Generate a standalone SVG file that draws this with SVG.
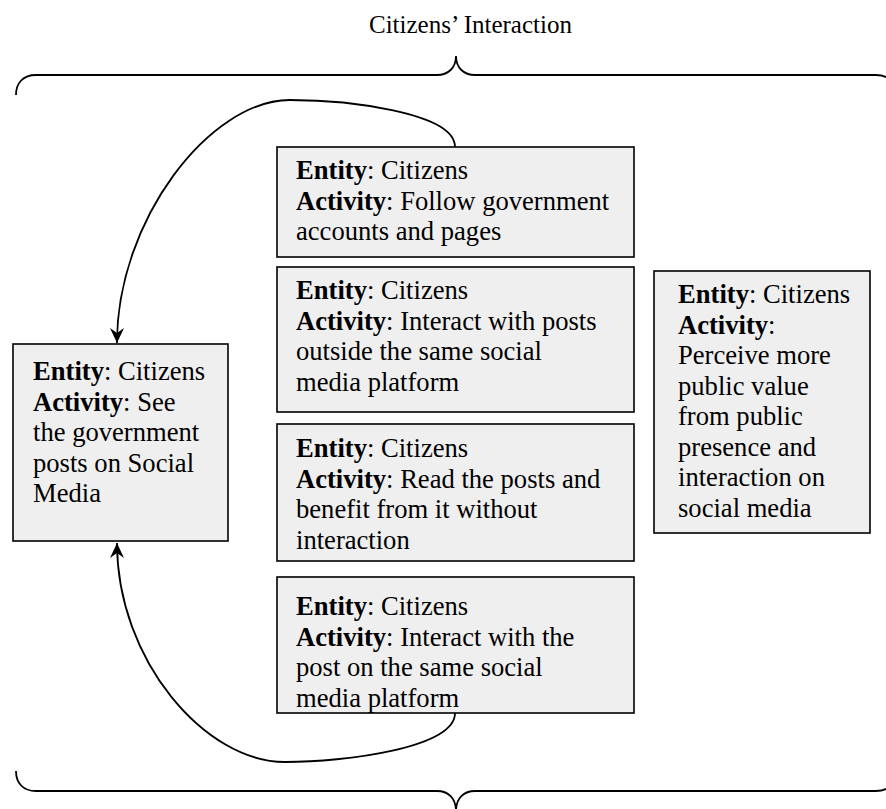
<svg xmlns="http://www.w3.org/2000/svg" width="886" height="809" viewBox="0 0 886 809">
<style>
  .box { fill: #efefef; stroke: #000; stroke-width: 1.6; }
  .t { font-family: "Liberation Serif", "Times New Roman", serif; font-size: 26.6px; fill: #000; }
  .b { font-weight: bold; }
  .edge { fill: none; stroke: #000; stroke-width: 1.8; }
  .brace { fill: none; stroke: #000; stroke-width: 1.8; }
</style>
<defs>
  <marker id="arr" markerWidth="18" markerHeight="18" refX="15" refY="8" orient="auto" markerUnits="userSpaceOnUse">
    <path d="M0,1 L15,8 L0,15 L5,8 Z" fill="#000"/>
  </marker>
  <clipPath id="c4"><rect x="277" y="577" width="357" height="136"/></clipPath>
</defs>
<rect width="886" height="809" fill="#fff"/>

<text class="t" x="369" y="33" style="font-size:25px">Citizens’ Interaction</text>

<g id="braces">
  <path class="brace" d="M16,95 C16,83 23,75 36,75 L437,75 C448,75 456,68 456,56 C456,68 464,75 475,75 L876,75 C889,75 896,83 896,95"/>
  <path class="brace" d="M16,771 C16,783 23,791 36,791 L437,791 C448,791 456,798 456,811 C456,798 464,791 475,791 L876,791 C889,791 896,783 896,771"/>
</g>

<g id="connectors">
  <path class="edge" d="M455,147 C455,112 345,100 290,100 C210,100 117,220 117,343" marker-end="url(#arr)"/>
  <path class="edge" d="M455,713 C455,748 345,762 285,762 C205,762 117,660 117,543" marker-end="url(#arr)"/>
</g>

<g id="n1">
  <rect class="box" x="277" y="147" width="357" height="110"/>
  <text class="t" x="296" y="179"><tspan class="b">Entity</tspan>: Citizens</text>
  <text class="t" x="296" y="209.5"><tspan class="b">Activity</tspan>: Follow government</text>
  <text class="t" x="296" y="240"><tspan>accounts and pages</tspan></text>
</g>

<g id="n2">
  <rect class="box" x="277" y="267" width="357" height="145"/>
  <text class="t" x="296" y="299"><tspan class="b">Entity</tspan>: Citizens</text>
  <text class="t" x="296" y="329.5"><tspan class="b">Activity</tspan>: Interact with posts</text>
  <text class="t" x="296" y="360">outside the same social</text>
  <text class="t" x="296" y="390.5">media platform</text>
</g>

<g id="n3">
  <rect class="box" x="277" y="424" width="357" height="137"/>
  <text class="t" x="296" y="457"><tspan class="b">Entity</tspan>: Citizens</text>
  <text class="t" x="296" y="487.5"><tspan class="b">Activity</tspan>: Read the posts and</text>
  <text class="t" x="296" y="518">benefit from it without</text>
  <text class="t" x="296" y="548.5">interaction</text>
</g>

<g id="n4">
  <rect class="box" x="277" y="577" width="357" height="136"/>
  <g clip-path="url(#c4)">
    <text class="t" x="296" y="615"><tspan class="b">Entity</tspan>: Citizens</text>
    <text class="t" x="296" y="645.5"><tspan class="b">Activity</tspan>: Interact with the</text>
    <text class="t" x="296" y="676">post on the same social</text>
    <text class="t" x="296" y="707">media platform</text>
  </g>
</g>

<g id="n5">
  <rect class="box" x="13" y="344" width="215" height="197"/>
  <text class="t" x="33" y="380"><tspan class="b">Entity</tspan>: Citizens</text>
  <text class="t" x="33" y="410.5"><tspan class="b">Activity</tspan>: See</text>
  <text class="t" x="33" y="441">the government</text>
  <text class="t" x="33" y="471.5">posts on Social</text>
  <text class="t" x="33" y="502">Media</text>
</g>

<g id="n6">
  <rect class="box" x="654" y="271" width="216" height="262"/>
  <text class="t" x="678" y="303"><tspan class="b">Entity</tspan>: Citizens</text>
  <text class="t" x="678" y="333.5"><tspan class="b">Activity</tspan>:</text>
  <text class="t" x="678" y="364">Perceive more</text>
  <text class="t" x="678" y="394.5">public value</text>
  <text class="t" x="678" y="425">from public</text>
  <text class="t" x="678" y="455.5">presence and</text>
  <text class="t" x="678" y="486">interaction on</text>
  <text class="t" x="678" y="516.5">social media</text>
</g>
</svg>
